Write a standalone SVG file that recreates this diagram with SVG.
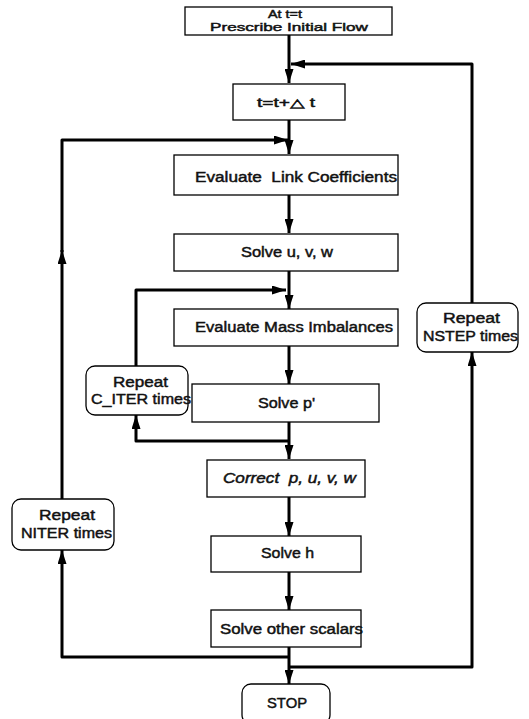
<svg xmlns="http://www.w3.org/2000/svg" width="529" height="719" viewBox="0 0 529 719">
<style>
.box{fill:#fff;stroke:#000;stroke-width:1.3}
.t{font-family:"Liberation Sans",Arial,sans-serif;font-size:14px;fill:#111;stroke:#111;stroke-width:0.45}
.s{font-size:12px}
.xs{font-size:11px}
.i{font-style:italic}
.c{fill:none;stroke:#000;stroke-width:3;stroke-linejoin:round}
</style>
<defs>
<marker id="ah" viewBox="0 0 14 9" refX="14" refY="4.5" markerWidth="14" markerHeight="9" markerUnits="userSpaceOnUse" orient="auto">
<path d="M0,0 L14,4.5 L0,9 Z" fill="#000"/>
</marker>
</defs>
<rect width="529" height="719" fill="#fff"/>
<g id="connectors">
<path class="c" d="M289,35 V83" marker-end="url(#ah)"/>
<path class="c" d="M472,303 V64 H291" marker-end="url(#ah)"/>
<path class="c" d="M289,120 V154" marker-end="url(#ah)"/>
<path class="c" d="M62,499 V250" marker-end="url(#ah)"/>
<path class="c" d="M62,252 V140 H288" marker-end="url(#ah)"/>
<path class="c" d="M289,195 V233" marker-end="url(#ah)"/>
<path class="c" d="M289,271 V309" marker-end="url(#ah)"/>
<path class="c" d="M136,366 V290 H286" marker-end="url(#ah)"/>
<path class="c" d="M289,346 V384" marker-end="url(#ah)"/>
<path class="c" d="M289,422 V459" marker-end="url(#ah)"/>
<path class="c" d="M289,441 H136 V415" marker-end="url(#ah)"/>
<path class="c" d="M289,497 V536" marker-end="url(#ah)"/>
<path class="c" d="M289,572 V610" marker-end="url(#ah)"/>
<path class="c" d="M289,647 V684" marker-end="url(#ah)"/>
<path class="c" d="M289,657 H62 V550" marker-end="url(#ah)"/>
<path class="c" d="M289,667 H472 V352" marker-end="url(#ah)"/>
</g>
<g id="start">
<rect class="box" x="185" y="7" width="207" height="28"/>
<text class="t xs" x="268" y="18" textLength="34" lengthAdjust="spacingAndGlyphs">At t=t</text>
<text class="t xs" x="210" y="31" textLength="158" lengthAdjust="spacingAndGlyphs">Prescribe Initial Flow</text>
</g>
<g id="time-step">
<rect class="box" x="233" y="84" width="112" height="36"/>
<text class="t s" x="257" y="107" textLength="58" lengthAdjust="spacingAndGlyphs">t=t+△ t</text>
</g>
<g id="link-coefficients">
<rect class="box" x="174" y="155" width="224" height="40"/>
<text class="t" x="195" y="182" textLength="202" lengthAdjust="spacingAndGlyphs">Evaluate&#160; Link Coefficients</text>
</g>
<g id="solve-uvw">
<rect class="box" x="174" y="234" width="224" height="37"/>
<text class="t" x="241" y="257" textLength="92" lengthAdjust="spacingAndGlyphs">Solve u, v, w</text>
</g>
<g id="mass-imbalances">
<rect class="box" x="174" y="309" width="224" height="37"/>
<text class="t" x="195" y="332" textLength="198" lengthAdjust="spacingAndGlyphs">Evaluate Mass Imbalances</text>
</g>
<g id="solve-p">
<rect class="box" x="192" y="384" width="187" height="38"/>
<text class="t" x="258" y="408" textLength="57" lengthAdjust="spacingAndGlyphs">Solve p'</text>
</g>
<g id="correct">
<rect class="box" x="207" y="460" width="158" height="37"/>
<text class="t i" x="223" y="483" textLength="133" lengthAdjust="spacingAndGlyphs">Correct&#160; p, u, v, w</text>
</g>
<g id="solve-h">
<rect class="box" x="211" y="536" width="150" height="36"/>
<text class="t" x="261" y="558" textLength="53" lengthAdjust="spacingAndGlyphs">Solve h</text>
</g>
<g id="solve-scalars">
<rect class="box" x="211" y="610" width="150" height="37"/>
<text class="t" x="220" y="634" textLength="143" lengthAdjust="spacingAndGlyphs">Solve other scalars</text>
</g>
<g id="stop">
<rect class="box" x="242" y="684" width="88" height="40" rx="9"/>
<text class="t" x="267" y="708" textLength="40" lengthAdjust="spacingAndGlyphs">STOP</text>
</g>
<g id="repeat-citer">
<rect class="box" x="86" y="366" width="102" height="49" rx="9"/>
<text class="t" x="113" y="387" textLength="55" lengthAdjust="spacingAndGlyphs">Repeat</text>
<text class="t" x="91" y="404" textLength="100" lengthAdjust="spacingAndGlyphs">C_ITER times</text>
</g>
<g id="repeat-niter">
<rect class="box" x="12" y="499" width="102" height="51" rx="9"/>
<text class="t" x="39" y="520" textLength="56" lengthAdjust="spacingAndGlyphs">Repeat</text>
<text class="t" x="21" y="538" textLength="91" lengthAdjust="spacingAndGlyphs">NITER times</text>
</g>
<g id="repeat-nstep">
<rect class="box" x="417" y="303" width="101" height="49" rx="9"/>
<text class="t" x="443" y="323" textLength="57" lengthAdjust="spacingAndGlyphs">Repeat</text>
<text class="t" x="423" y="341" textLength="95" lengthAdjust="spacingAndGlyphs">NSTEP times</text>
</g>
</svg>
